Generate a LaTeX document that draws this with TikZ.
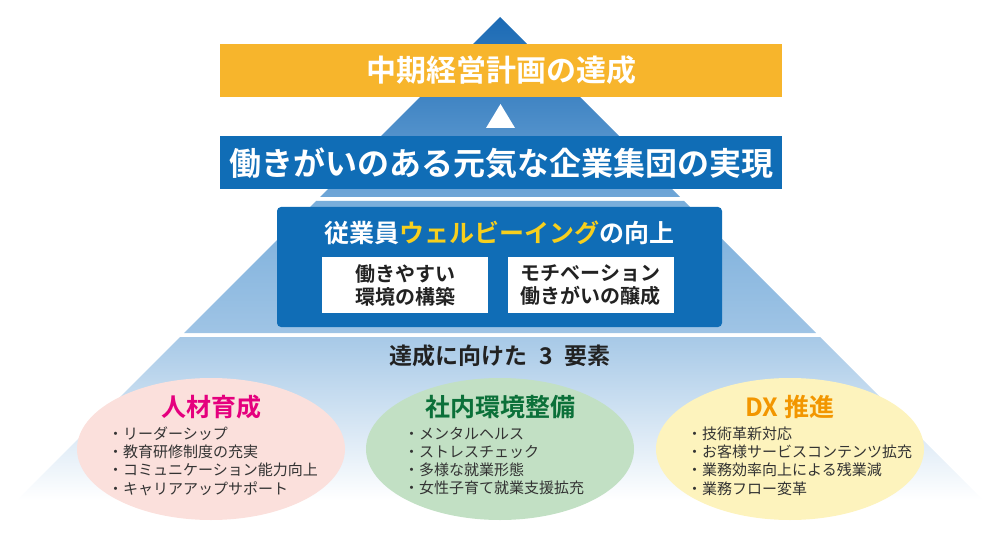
\documentclass[tikz,border=0pt]{standalone}
\usepackage{fontspec}
\setmainfont{Noto Sans CJK JP}[BoldFont={Noto Sans CJK JP Bold}]
\usepackage{xcolor}
\usetikzlibrary{shapes.geometric}
\definecolor{goalorange}{HTML}{F7B52C}
\definecolor{wbblue}{HTML}{106DB6}
\definecolor{wbyellow}{HTML}{F7CF1D}
\definecolor{pyrtop}{HTML}{1B6AB4}
\definecolor{pyrmid}{HTML}{6FA6D7}
\definecolor{bandtop}{HTML}{79AEDB}
\definecolor{bandbot}{HTML}{9FC4E5}
\definecolor{lowtop}{HTML}{A7C9E7}
\definecolor{textdark}{HTML}{222222}
\definecolor{textgray}{HTML}{333333}
\definecolor{pinkbg}{HTML}{FBE0DC}
\definecolor{greenbg}{HTML}{C2E0C4}
\definecolor{yellowbg}{HTML}{FDF3BD}
\definecolor{hrpink}{HTML}{E5007E}
\definecolor{envgreen}{HTML}{0B7039}
\definecolor{dxorange}{HTML}{F29600}
\begin{document}
\begin{tikzpicture}[x=1pt, y=-1pt,
  every node/.style={inner sep=0pt},
  bar/.style={minimum width=562pt, minimum height=53pt, text=white},
  panel/.style={fill=wbblue, rounded corners=4pt, minimum width=445pt, minimum height=120pt},
  card/.style={fill=white, minimum width=166pt, minimum height=56pt, align=center, text=textdark, font=\fontsize{20}{23}\selectfont\bfseries},
  oval/.style={ellipse, minimum width=268pt, minimum height=142pt},
  head/.style={font=\fontsize{25}{30}\selectfont\bfseries},
  items/.style={align=left, anchor=west, text=textgray, font=\fontsize{15}{18.3}\selectfont}
]
\useasboundingbox (0,0) rectangle (1000,534);
\shade[top color=pyrtop, bottom color=pyrmid] (500,17) -- (680,197) -- (320,197) -- cycle;
\shade[top color=bandtop, bottom color=bandbot] (316,201) -- (684,201) -- (816,333) -- (184,333) -- cycle;
\shade[top color=lowtop, bottom color=white] (180,337) -- (820,337) -- (983,500) -- (17,500) -- cycle;
\node[bar, fill=goalorange, font=\fontsize{30}{34}\selectfont\bfseries] (goal) at (501,70.5) {中期経営計画の達成};
\fill[white] (500.5,104) -- (515,128) -- (486,128) -- cycle;
\node[bar, fill=wbblue, font=\fontsize{32}{36}\selectfont\bfseries] (vision) at (501,163) {働きがいのある元気な企業集団の実現};
\node[panel] (wb) at (499.5,267) {};
\node[text=white, font=\fontsize{25}{30}\selectfont\bfseries] (wbtitle) at (499.5,233) {従業員{\color{wbyellow}ウェルビーイング}の向上};
\node[card] (env) at (405,285) {働きやすい\\環境の構築};
\node[card] (motiv) at (590.5,285) {モチベーション\\働きがいの醸成};
\node[text=textdark, font=\fontsize{23}{28}\selectfont\bfseries] (three) at (500,356) {達成に向けた\hspace{0.5em}3\hspace{0.5em}要素};
\node[oval, fill=pinkbg] (hr) at (211,449) {};
\node[oval, fill=greenbg] (work) at (500,449) {};
\node[oval, fill=yellowbg] (dx) at (790,449) {};
\node[head, text=hrpink] (hrtitle) at (211,407) {人材育成};
\node[head, text=envgreen] (worktitle) at (500,407) {社内環境整備};
\node[head, text=dxorange] (dxtitle) at (790,407) {DX 推進};
\node[items] (hritems) at (108,461) {・リーダーシップ\\・教育研修制度の充実\\・コミュニケーション能力向上\\・キャリアアップサポート};
\node[items] (workitems) at (404,461) {・メンタルヘルス\\・ストレスチェック\\・多様な就業形態\\・女性子育て就業支援拡充};
\node[items] (dxitems) at (687,461) {・技術革新対応\\・お客様サービスコンテンツ拡充\\・業務効率向上による残業減\\・業務フロー変革};
\end{tikzpicture}
\end{document}
